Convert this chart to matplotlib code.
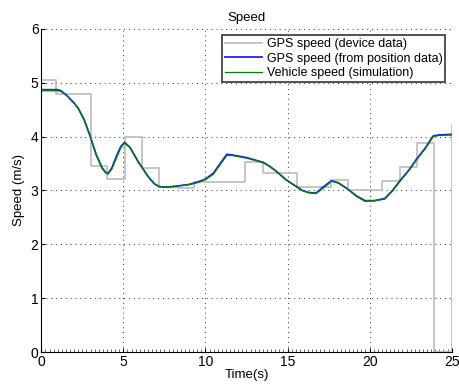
import matplotlib
matplotlib.use("Agg")
import matplotlib.pyplot as plt
from matplotlib.ticker import MultipleLocator

plt.rcParams['font.family'] = ['Liberation Sans', 'DejaVu Sans']

# GPS speed (device data): step edges (time) and values
gps_dev_t = [0, 0.91, 3.0, 4.0, 5.1, 6.15, 7.17, 8.25, 9.3, 12.4, 13.48,
             15.55, 17.62, 18.7, 20.77, 21.85, 22.86, 23.92, 25.0]
gps_dev_v = [5.05, 4.79, 3.46, 3.22, 3.99, 3.41, 3.07, 3.05, 3.15, 3.52, 3.32,
             3.07, 3.20, 3.01, 3.17, 3.43, 3.89, 0.0, 4.22]

# GPS speed (from position data)
gps_pos_t = [0, 0.5, 1.0, 1.2, 1.6, 2.0, 2.24, 2.6, 2.95, 3.35, 3.7, 3.9, 4.06,
             4.3, 4.57, 4.85, 5.08, 5.4, 5.89, 6.5, 6.9, 7.2, 7.6, 8.25, 9.0,
             9.46, 10.0, 10.48, 10.9, 11.3, 11.6, 12.5, 13.52, 13.9, 14.34,
             14.9, 15.55, 15.9, 16.3, 16.73, 17.2, 17.68, 18.1, 18.6, 19.2,
             19.71, 20.3, 20.93, 21.4, 21.85, 22.4, 22.86, 23.4, 23.87, 24.2,
             25.0]
gps_pos_v = [4.87, 4.87, 4.87, 4.85, 4.75, 4.62, 4.53, 4.32, 4.03, 3.66, 3.42,
             3.34, 3.31, 3.42, 3.63, 3.82, 3.89, 3.80, 3.54, 3.26, 3.12, 3.07,
             3.06, 3.08, 3.11, 3.15, 3.21, 3.32, 3.50, 3.67, 3.66, 3.61, 3.52,
             3.45, 3.35, 3.20, 3.07, 3.00, 2.96, 2.95, 3.07, 3.18, 3.14, 3.04,
             2.90, 2.81, 2.81, 2.85, 3.00, 3.18, 3.38, 3.58, 3.79, 4.01, 4.03,
             4.04]

# Vehicle speed (simulation)
veh_t = gps_pos_t
veh_v = [4.85, 4.85, 4.85, 4.84, 4.75, 4.62, 4.53, 4.32, 4.03, 3.66, 3.42,
         3.33, 3.31, 3.40, 3.60, 3.80, 3.88, 3.80, 3.54, 3.26, 3.12, 3.07,
         3.06, 3.08, 3.11, 3.14, 3.20, 3.30, 3.48, 3.65, 3.65, 3.60, 3.52,
         3.45, 3.35, 3.20, 3.07, 3.00, 2.96, 2.94, 3.05, 3.17, 3.14, 3.04,
         2.89, 2.80, 2.81, 2.84, 2.99, 3.17, 3.37, 3.57, 3.78, 4.00, 4.02,
         4.03]

fig = plt.figure(figsize=(4.59, 3.90), dpi=100)
ax = fig.add_axes([0.09, 0.0974, 0.894, 0.8286])

ax.step(gps_dev_t, gps_dev_v, where='post', color='#c0c0c0', lw=1.3,
        label='GPS speed (device data)')
ax.plot(gps_pos_t, gps_pos_v, color='#2020ff', lw=1.3,
        label='GPS speed (from position data)')
ax.plot(veh_t, veh_v, color='#007f00', lw=0.9,
        label='Vehicle speed (simulation)')

ax.set_xlim(0, 25)
ax.set_ylim(0, 6)
ax.xaxis.set_major_locator(MultipleLocator(5))
ax.yaxis.set_major_locator(MultipleLocator(1))
ax.xaxis.set_minor_locator(MultipleLocator(0.25))
ax.tick_params(axis='both', which='major', direction='in', length=3,
               labelsize=10, width=0.8, pad=2)
ax.tick_params(axis='x', which='minor', direction='in', length=2, width=0.6,
               color='#555555')
ax.tick_params(axis='y', which='minor', left=False)
ax.spines['top'].set_visible(False)
ax.spines['right'].set_visible(False)
ax.grid(True, which='major', linestyle=(0, (1, 4)), color='#333333', lw=0.7)

ax.set_title('Speed', fontsize=9.5, pad=6)
ax.set_xlabel('Time(s)', fontsize=9.5, labelpad=0)
ax.set_ylabel('Speed (m/s)', fontsize=9.5, labelpad=4)

leg = ax.legend(loc='upper right', fontsize=9, frameon=True, fancybox=False,
                edgecolor='black', borderpad=0.25, labelspacing=0.2,
                handlelength=3.0, handletextpad=0.35, borderaxespad=0.5)
leg.get_frame().set_linewidth(1.2)

fig.savefig('out.png', dpi=100)
